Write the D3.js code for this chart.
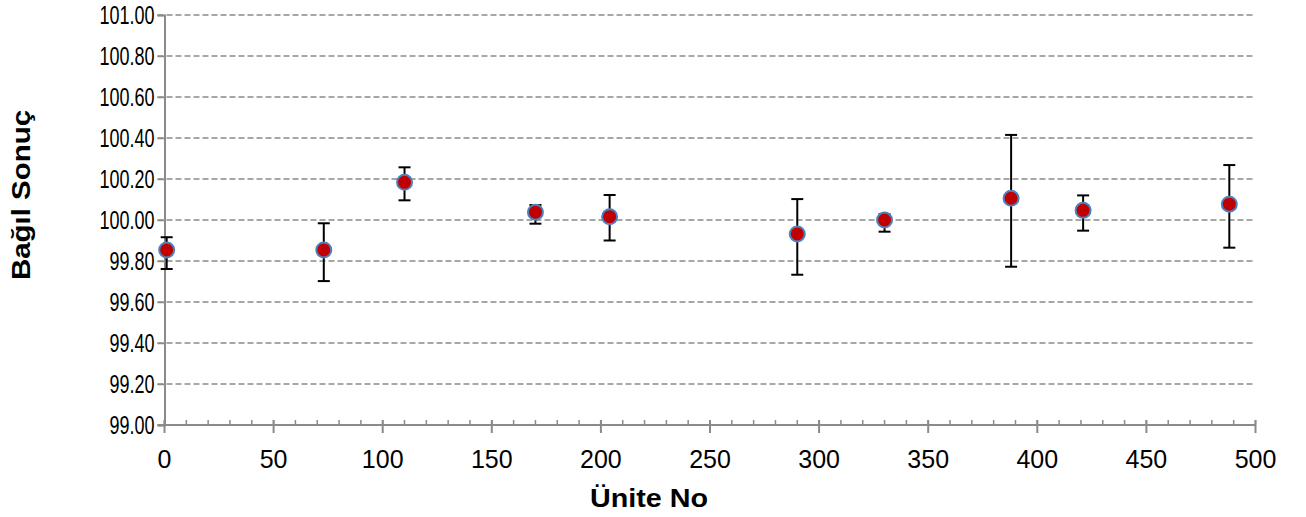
<!DOCTYPE html>
<html>
<head>
<meta charset="utf-8">
<script src="https://cdn.jsdelivr.net/npm/d3@7"></script>
<style>
  html, body { margin: 0; padding: 0; background: #fff; }
  svg { display: block; }
</style>
</head>
<body>
<svg id="chart"></svg>
<script>
  const width = 1306;
  const height = 517;
  const margin = { top: 15, right: 50.5, bottom: 92, left: 164.5 };

  // Ünite No / Bağıl Sonuç with error bar bounds
  const unitNo = [1, 73, 110, 170, 204, 290, 330, 388, 421, 488];
  const result = [99.854, 99.854, 100.184, 100.038, 100.016, 99.932, 100.0, 100.106, 100.047, 100.077];
  const upper = [99.916, 99.984, 100.257, 100.073, 100.122, 100.102, 100.028, 100.415, 100.12, 100.268];
  const lower = [99.761, 99.702, 100.096, 99.982, 99.9, 99.733, 99.943, 99.772, 99.948, 99.865];

  const yTicks = [99.0, 99.2, 99.4, 99.6, 99.8, 100.0, 100.2, 100.4, 100.6, 100.8, 101.0];
  const xTicks = [0, 50, 100, 150, 200, 250, 300, 350, 400, 450, 500];
  const xMinorTicks = d3.range(0, 501, 10);

  const gridColor = "#8a8a8a";
  const font = "Arial, 'Liberation Sans', sans-serif";

  const svg = d3.select("#chart").attr("width", width).attr("height", height);

  const x = d3.scaleLinear().domain([0, 500]).range([margin.left, width - margin.right]);
  const y = d3.scaleLinear().domain([99, 101]).range([height - margin.bottom, margin.top]);

  // horizontal dashed gridlines
  svg
    .append("g")
    .selectAll("line")
    .data(yTicks.slice(1))
    .join("line")
    .attr("x1", margin.left - 7)
    .attr("x2", width - margin.right)
    .attr("y1", (d) => y(d))
    .attr("y2", (d) => y(d))
    .attr("stroke", gridColor)
    .attr("stroke-width", 1.5)
    .attr("stroke-dasharray", "6 3");

  // y axis
  const yAxis = svg
    .append("g")
    .attr("transform", `translate(${margin.left},0)`)
    .call(d3.axisLeft(y).tickValues(yTicks).tickFormat(d3.format(".2f")).tickSize(7).tickPadding(3));

  yAxis.select(".domain").attr("stroke", gridColor).attr("stroke-width", 2);
  yAxis.selectAll(".tick line").attr("stroke", gridColor).attr("stroke-width", 1.5);
  yAxis
    .selectAll(".tick text")
    .attr("font-family", font)
    .attr("font-size", 25)
    .attr("fill", "#000")
    .each(function () {
      const len = this.getComputedTextLength();
      d3.select(this).attr("textLength", len * 0.72).attr("lengthAdjust", "spacingAndGlyphs");
    });

  // x axis: minor ticks inside, major crossing
  const xAxisG = svg.append("g").attr("transform", `translate(0,${height - margin.bottom})`);

  xAxisG
    .append("g")
    .selectAll("line")
    .data(xMinorTicks)
    .join("line")
    .attr("x1", (d) => x(d))
    .attr("x2", (d) => x(d))
    .attr("y1", -5)
    .attr("y2", 0)
    .attr("stroke", gridColor)
    .attr("stroke-width", 1.5);

  xAxisG
    .append("g")
    .selectAll("line")
    .data(xTicks)
    .join("line")
    .attr("x1", (d) => x(d))
    .attr("x2", (d) => x(d))
    .attr("y1", -5)
    .attr("y2", 8)
    .attr("stroke", gridColor)
    .attr("stroke-width", 2);

  xAxisG
    .append("line")
    .attr("x1", margin.left - 7)
    .attr("x2", width - margin.right)
    .attr("stroke", gridColor)
    .attr("stroke-width", 2);

  xAxisG
    .append("g")
    .selectAll("text")
    .data(xTicks)
    .join("text")
    .attr("x", (d) => x(d))
    .attr("y", 43)
    .attr("text-anchor", "middle")
    .attr("font-family", font)
    .attr("font-size", 25)
    .attr("fill", "#000")
    .text((d) => d);

  // axis titles
  svg
    .append("text")
    .attr("x", 649)
    .attr("y", 507)
    .attr("text-anchor", "middle")
    .attr("font-family", font)
    .attr("font-size", 25)
    .attr("font-weight", "bold")
    .attr("textLength", 118)
    .attr("lengthAdjust", "spacingAndGlyphs")
    .text("Ünite No");

  svg
    .append("text")
    .attr("transform", `translate(30,195) rotate(-90)`)
    .attr("text-anchor", "middle")
    .attr("font-family", font)
    .attr("font-size", 25)
    .attr("font-weight", "bold")
    .attr("textLength", 170)
    .attr("lengthAdjust", "spacingAndGlyphs")
    .text("Bağıl Sonuç");

  const points = unitNo.map((u, i) => ({ u, v: result[i], hi: upper[i], lo: lower[i] }));

  // error bars
  const bars = svg.append("g").selectAll("g").data(points).join("g");
  bars
    .append("line")
    .attr("x1", (d) => x(d.u))
    .attr("x2", (d) => x(d.u))
    .attr("y1", (d) => y(d.hi))
    .attr("y2", (d) => y(d.lo))
    .attr("stroke", "#000")
    .attr("stroke-width", 2);
  bars
    .selectAll(".cap")
    .data((d) => [{ u: d.u, v: d.hi }, { u: d.u, v: d.lo }])
    .join("line")
    .attr("class", "cap")
    .attr("x1", (d) => x(d.u) - 6)
    .attr("x2", (d) => x(d.u) + 6)
    .attr("y1", (d) => y(d.v))
    .attr("y2", (d) => y(d.v))
    .attr("stroke", "#000")
    .attr("stroke-width", 2);

  // markers
  svg
    .append("g")
    .selectAll("circle")
    .data(points)
    .join("circle")
    .attr("cx", (d) => x(d.u))
    .attr("cy", (d) => y(d.v))
    .attr("r", 7.5)
    .attr("fill", "#c00000")
    .attr("stroke", "#4f81bd")
    .attr("stroke-width", 2);
</script>
</body>
</html>
